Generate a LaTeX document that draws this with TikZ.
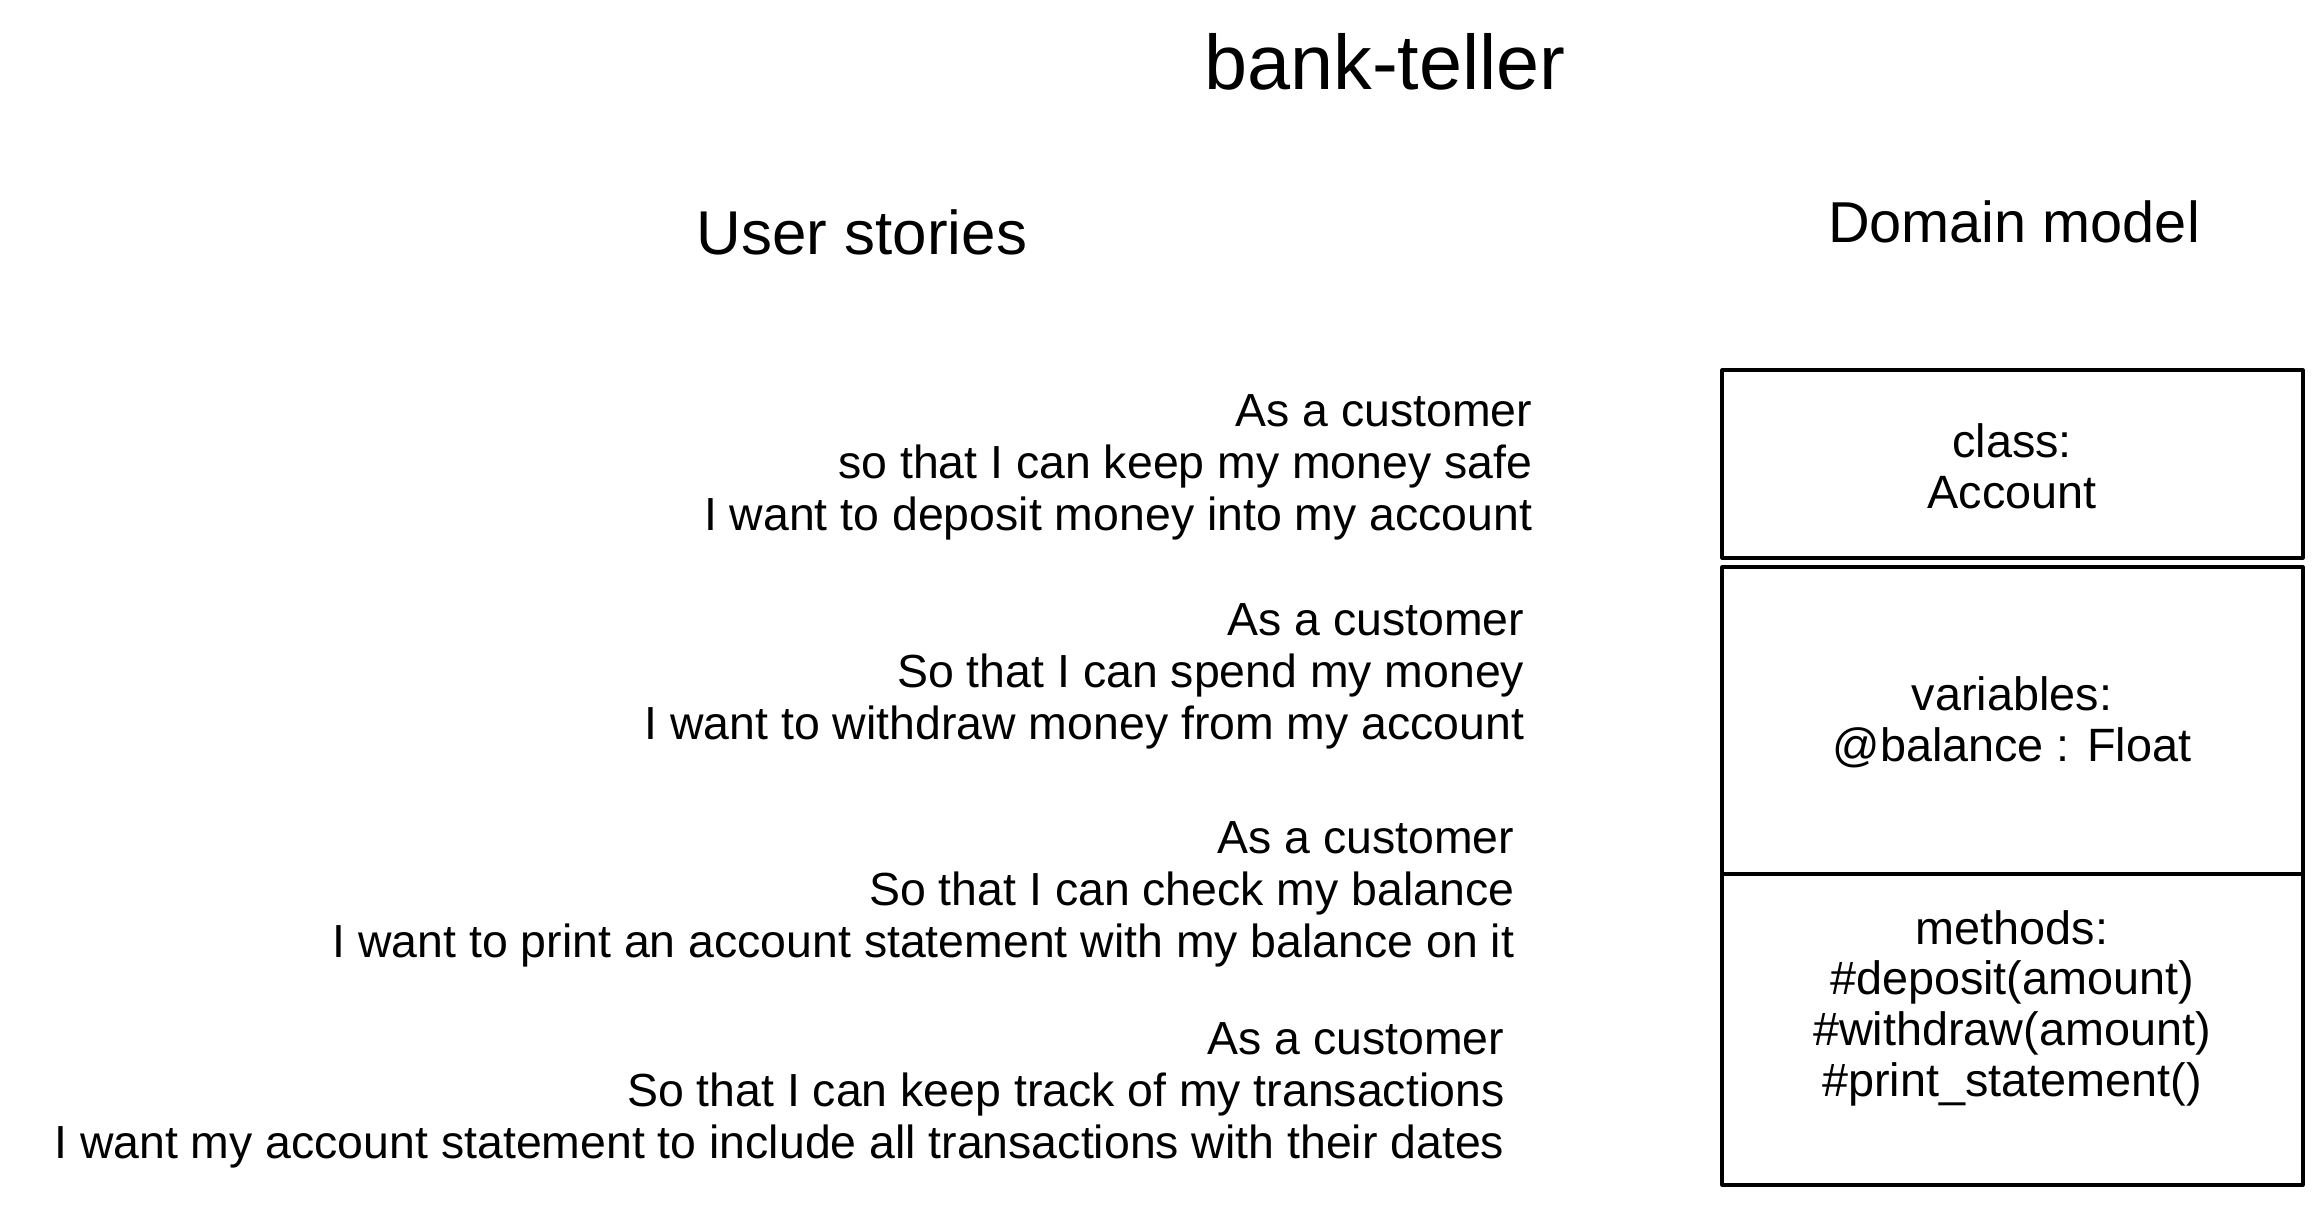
\documentclass[tikz,border=0pt]{standalone}
\usepackage{fontspec}
\setmainfont{Liberation Sans}

\begin{document}
\begin{tikzpicture}[x=0.01cm, y=-0.01cm,
    story/.style={anchor=east, align=right, inner sep=0pt, font=\fontsize{13.2}{14.8}\selectfont},
    heading/.style={inner sep=0pt, font=\fontsize{17}{20}\selectfont},
    member/.style={align=center, inner sep=0pt, font=\fontsize{13.3}{14.4}\selectfont},
    compartment/.style={draw=black, line width=0.9pt, line join=round}]
        \useasboundingbox (0,0) rectangle (2322,1205);

        \node[inner sep=0pt, font=\fontsize{22}{26}\selectfont] (title) at (1385,62) {bank-teller};
        \node[heading, font=\fontsize{17.6}{20}\selectfont] (stories) at (862,232) {User stories};
        \node[heading, font=\fontsize{16.4}{20}\selectfont] (domain) at (2014,222) {Domain model};

        \node[story] (deposit) at (1533,467) {As a customer\\so that I can keep my money safe\\I want to deposit money into my account};
        \node[story] (withdraw) at (1525,676) {As a customer\\So that I can spend my money\\I want to withdraw money from my account};
        \node[story] (balance) at (1515,894) {As a customer\\So that I can check my balance\\I want to print an account statement with my balance on it};
        \node[story] (history) at (1505,1095) {As a customer\\So that I can keep track of my transactions\\I want my account statement to include all transactions with their dates};

        \draw[compartment] (1722,370) rectangle (2303,558);
        \draw[compartment] (1722,567) rectangle (2303,874);
        \draw[compartment] (1722,874) rectangle (2303,1185);

        \node[member] (cls) at (2012,466) {class:\\Account};
        \node[member] (vars) at (2012,722) {variables:\\@balance : Float};
        \node[member] (meths) at (2012,1008) {methods:\\\#deposit(amount)\\\#withdraw(amount)\\\#print\_statement()};

    \end{tikzpicture}
\end{document}
